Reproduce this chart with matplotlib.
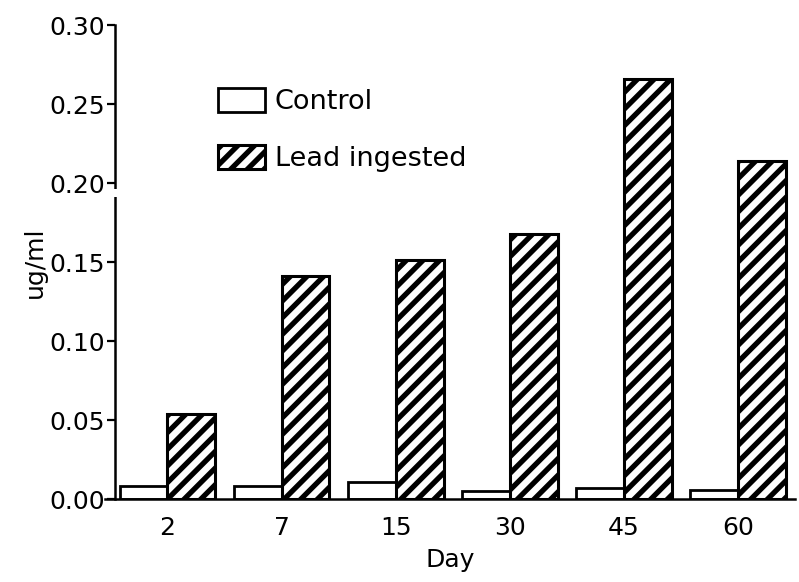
import matplotlib
matplotlib.use('Agg')
import matplotlib.pyplot as plt
import numpy as np

days = ['2', '7', '15', '30', '45', '60']
control = [0.008, 0.008, 0.011, 0.005, 0.007, 0.006]
lead = [0.054, 0.141, 0.151, 0.168, 0.266, 0.214]

plt.rcParams['font.family'] = ['DejaVu Sans']
plt.rcParams['hatch.linewidth'] = 3.8

fig = plt.figure(figsize=(7.99, 5.82), dpi=100)
ax = fig.add_axes([0.131, 0.1426, 0.864, 0.8144])

x = np.arange(len(days))
w = 0.42
ax.bar(x - w / 2, control, w, facecolor='white', edgecolor='black', linewidth=2.0, label='Control')
ax.bar(x + w / 2, lead, w, facecolor='white', edgecolor='black', linewidth=2.2,
       hatch='//', label='Lead ingested')

ax.set_xlim(-0.55, 5.5)
ax.set_ylim(0, 0.30)
ax.spines['top'].set_visible(False)
ax.spines['right'].set_visible(False)
ax.spines['left'].set_position(('data', -0.46))
ax.spines['left'].set_linewidth(1.8)
ax.spines['bottom'].set_linewidth(1.8)

ax.set_xticks(x)
ax.set_xticklabels(days)
ax.set_yticks(np.arange(0, 0.31, 0.05))
ax.set_yticklabels(['%.2f' % v for v in np.arange(0, 0.31, 0.05)])
ax.tick_params(axis='x', length=0, labelsize=18, pad=12)
ax.tick_params(axis='y', length=6, width=1.6, labelsize=18, pad=1)

# small break in the y axis
ax.plot([-0.46, -0.46], [0.191, 0.196], color='white', linewidth=4,
        solid_capstyle='butt', clip_on=False, zorder=5)

ax.set_xlabel('Day', fontsize=18, labelpad=6)
ax.set_ylabel('ug/ml', fontsize=18, labelpad=2)

ax.legend(loc='upper left', bbox_to_anchor=(0.273, 0.849), bbox_transform=fig.transFigure,
          frameon=False, fontsize=19.5, handlelength=1.74, handleheight=1.0,
          labelspacing=1.1, handletextpad=0.35, borderpad=0, borderaxespad=0)

fig.savefig('out.png', dpi=100)
